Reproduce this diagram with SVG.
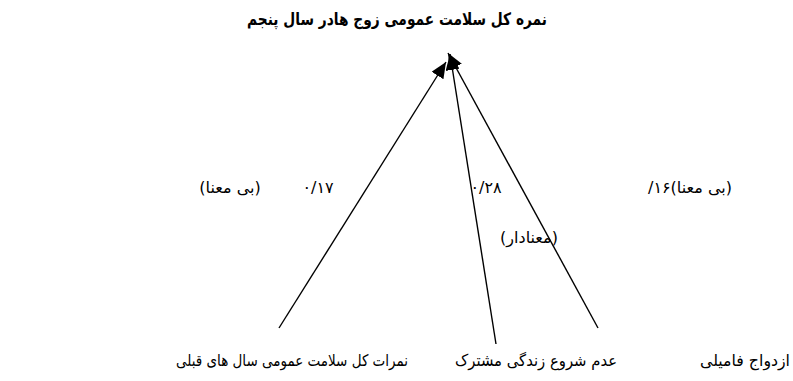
<svg xmlns="http://www.w3.org/2000/svg" width="793" height="381" viewBox="0 0 793 381">
  <style>
    .t { font-family: "DejaVu Sans", "Noto Sans", sans-serif; font-size: 16px; fill: #000; direction: rtl; unicode-bidi: embed; text-anchor: middle; }
    .title { font-weight: bold; font-size: 17px; }
    .edge { stroke: #000; stroke-width: 1.4; fill: none; marker-end: url(#ah); }
  </style>
  <defs>
    <marker id="ah" markerUnits="userSpaceOnUse" markerWidth="18" markerHeight="14" refX="16" refY="7" orient="auto">
      <path d="M0,0 L16,7 L0,14 Z" fill="#000"/>
    </marker>
  </defs>
  <g id="title">
    <text class="t title" x="397" y="25" textLength="300" lengthAdjust="spacingAndGlyphs">نمره کل سلامت عمومی زوج هادر  سال پنجم</text>
  </g>
  <g id="connectors">
    <line class="edge" x1="279" y1="328" x2="446" y2="62"/>
    <line class="edge" x1="496" y1="344" x2="450" y2="54"/>
    <line class="edge" x1="598" y1="328" x2="448" y2="53"/>
  </g>
  <g id="labels">
    <text class="t" x="230" y="193">(بی معنا)</text>
    <text class="t" x="318" y="193">۰/۱۷</text>
    <text class="t" x="486" y="193">۰/۲۸</text>
    <text class="t" x="529" y="243">(معنادار)</text>
    <text class="t" x="690" y="193">(بی معنا)۱۶/</text>
  </g>
  <g id="node-prev">
    <text class="t" x="292" y="366" textLength="232" lengthAdjust="spacingAndGlyphs">نمرات کل سلامت عمومی سال های قبلی</text>
  </g>
  <g id="node-cohab">
    <text class="t" x="536" y="366" textLength="162" lengthAdjust="spacingAndGlyphs">عدم شروع زندگی مشترک</text>
  </g>
  <g id="node-family">
    <text class="t" x="745" y="366" textLength="90" lengthAdjust="spacingAndGlyphs">ازدواج فامیلی</text>
  </g>
</svg>
